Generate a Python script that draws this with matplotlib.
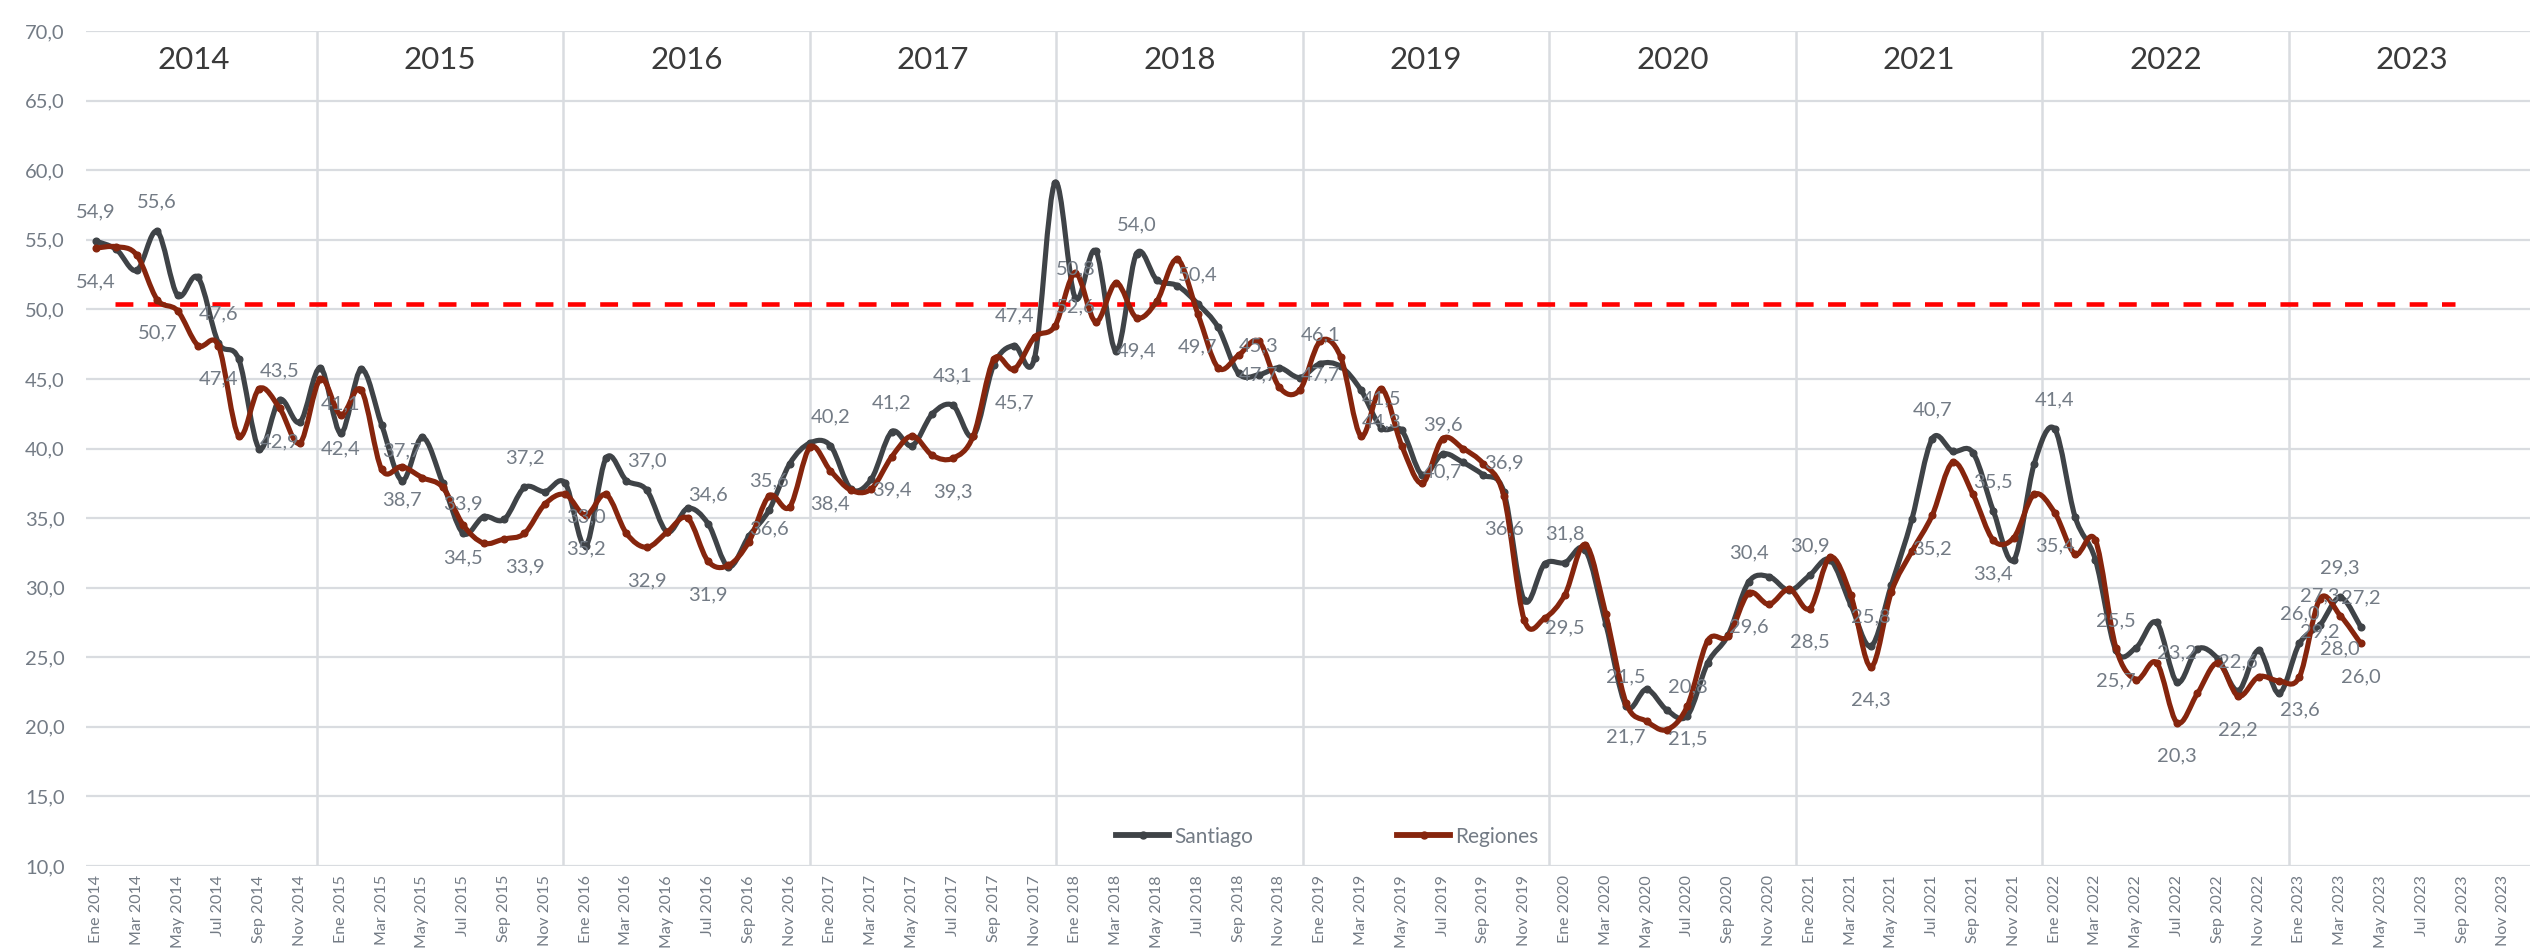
import matplotlib
matplotlib.use("Agg")
import matplotlib.pyplot as plt
from matplotlib.path import Path
from matplotlib.patches import PathPatch
from matplotlib.lines import Line2D
from matplotlib.ticker import FuncFormatter, FixedLocator

# ---------- datos ----------
years = [2014, 2015, 2016, 2017, 2018, 2019, 2020, 2021, 2022, 2023]
month_abbr = ["Ene", "Mar", "May", "Jul", "Sep", "Nov"]
tick_labels = [f"{m} {y}" for y in years for m in month_abbr]

santiago = [
    54.9, 54.3, 52.8, 55.6, 51.0, 52.3, 47.6, 46.4, 40.0, 43.5, 41.9, 45.8,
    41.1, 45.7, 41.7, 37.7, 40.8, 37.5, 33.9, 35.1, 34.9, 37.2, 36.9, 37.5,
    33.0, 39.3, 37.7, 37.0, 34.0, 35.7, 34.6, 31.5, 33.7, 35.6, 38.9, 40.4,
    40.2, 37.1, 37.8, 41.2, 40.2, 42.5, 43.1, 40.9, 46.0, 47.4, 46.5, 59.1,
    50.8, 54.2, 47.0, 54.0, 52.1, 51.7, 50.4, 48.7, 45.4, 45.3, 45.8, 45.1,
    46.1, 45.9, 44.2, 41.5, 41.3, 38.1, 39.6, 39.0, 38.1, 36.9, 29.1, 31.7,
    31.8, 32.7, 27.4, 21.5, 22.7, 21.2, 20.8, 24.6, 26.6, 30.4, 30.8, 29.8,
    30.9, 32.0, 28.8, 25.8, 30.2, 34.9, 40.7, 39.8, 39.7, 35.5, 32.0, 38.9,
    41.4, 35.1, 32.0, 25.5, 25.7, 27.5, 23.2, 25.6, 24.9, 22.6, 25.5, 22.4,
    26.0, 27.3, 29.3, 27.2,
]
regiones = [
    54.4, 54.5, 53.9, 50.7, 49.9, 47.4, 47.4, 40.9, 44.3, 42.9, 40.4, 45.0,
    42.4, 44.2, 38.5, 38.7, 37.9, 37.2, 34.5, 33.2, 33.5, 33.9, 36.0, 36.7,
    35.2, 36.7, 33.9, 32.9, 34.0, 35.0, 31.9, 31.6, 33.3, 36.6, 35.8, 40.1,
    38.4, 37.0, 37.1, 39.4, 40.9, 39.5, 39.3, 40.9, 46.4, 45.7, 48.0, 48.8,
    52.6, 49.1, 51.9, 49.4, 50.6, 53.6, 49.7, 45.8, 46.7, 47.7, 44.4, 44.2,
    47.7, 46.6, 40.9, 44.3, 40.2, 37.5, 40.7, 40.0, 38.9, 36.6, 27.7, 27.8,
    29.5, 33.1, 28.1, 21.7, 20.4, 19.8, 21.5, 26.2, 26.5, 29.6, 28.8, 29.9,
    28.5, 32.2, 29.5, 24.3, 29.7, 32.6, 35.2, 39.0, 36.7, 33.4, 33.6, 36.7,
    35.4, 32.4, 33.4, 25.7, 23.4, 24.6, 20.3, 22.4, 24.6, 22.2, 23.6, 23.3,
    23.6, 29.2, 28.0, 26.0,
]
umbral = 50.4
label_idx = list(range(0, len(santiago), 3)) + [109, 110]

# ---------- estilo ----------
plt.rcParams["font.family"] = ["Lato", "DejaVu Sans"]
C_SANT = "#3F4347"
C_REG = "#86250D"
C_GRID = "#D9DCE0"
C_TXT = "#737B85"

fig = plt.figure(figsize=(25.34, 9.52), dpi=100)
ax = fig.add_axes([85.8 / 2534, 86 / 952, (2530 - 85.8) / 2534, 835 / 952])
ax.set_xlim(-0.5, 119.3)
ax.set_ylim(10, 70)


def smooth_path(xs, ys):
    # curva suavizada tipo Excel (Bezier Catmull-Rom)
    pts = list(zip(xs, ys))
    verts = [pts[0]]
    codes = [Path.MOVETO]
    n = len(pts)
    for i in range(n - 1):
        p0 = pts[max(i - 1, 0)]
        p1 = pts[i]
        p2 = pts[i + 1]
        p3 = pts[min(i + 2, n - 1)]
        c1 = (p1[0] + (p2[0] - p0[0]) / 6, p1[1] + (p2[1] - p0[1]) / 6)
        c2 = (p2[0] - (p3[0] - p1[0]) / 6, p2[1] - (p3[1] - p1[1]) / 6)
        verts += [c1, c2, p2]
        codes += [Path.CURVE4] * 3
    return Path(verts, codes)


# grilla
for v in range(10, 71, 5):
    ax.axhline(v, color=C_GRID, lw=1.6, zorder=0)
year_sep = [10.83 + 12.08 * k for k in range(9)]
for xs in year_sep:
    ax.axvline(xs, color=C_GRID, lw=1.8, zorder=0)
edges = [year_sep[0] - 12.08] + year_sep + [year_sep[-1] + 12.08]
for k, y in enumerate(years):
    ax.text((edges[k] + edges[k + 1]) / 2, 67.9, str(y), ha="center", va="center",
            fontsize=22.5, color="#3A3A3A")

# línea umbral
ax.plot([0.95, 115.6], [umbral, umbral], color="#FF0000", lw=3.3,
        linestyle=(0, (3.9, 3.15)), zorder=2)

x = list(range(len(santiago)))
for ys, col, z in [(santiago, C_SANT, 3), (regiones, C_REG, 4)]:
    ax.add_patch(PathPatch(smooth_path(x, ys), fill=False, edgecolor=col, lw=3.7,
                           capstyle="round", joinstyle="round", zorder=z))
    ax.plot(x, ys, "o", color=col, ms=4.8, zorder=z)

# etiquetas de datos
fmt = lambda v: f"{v:.1f}".replace(".", ",")
for i in label_idx:
    ax.annotate(fmt(santiago[i]), (i, santiago[i]), xytext=(0, 21), textcoords="offset points",
                ha="center", va="center", fontsize=14.5, color=C_TXT, zorder=6)
    ax.annotate(fmt(regiones[i]), (i, regiones[i]), xytext=(0, -24), textcoords="offset points",
                ha="center", va="center", fontsize=14.5, color=C_TXT, zorder=6)

# ejes
ax.yaxis.set_major_locator(FixedLocator(range(10, 71, 5)))
ax.yaxis.set_major_formatter(FuncFormatter(lambda v, p: fmt(v)))
ax.set_xticks(range(0, 120, 2))
ax.set_xticklabels(tick_labels, rotation=90, fontsize=11.5, color=C_TXT)
ax.tick_params(axis="x", length=0, pad=6.5)
ax.tick_params(axis="y", length=0, pad=15, labelsize=14.5, labelcolor=C_TXT)
for s in ax.spines.values():
    s.set_visible(False)

handles = [
    Line2D([0, 0.5, 1], [0, 0, 0], color=C_SANT, lw=4.2, marker="o", ms=5, markevery=[1], label="Santiago"),
    Line2D([0, 0.5, 1], [0, 0, 0], color=C_REG, lw=4.2, marker="o", ms=5, markevery=[1], label="Regiones"),
]
ax.legend(handles=handles, loc="center", bbox_to_anchor=(0.508, 0.035), ncol=2,
          frameon=False, fontsize=15, handlelength=2.55, handletextpad=0.25,
          columnspacing=6.9, labelcolor=C_TXT)

fig.savefig("out.png", dpi=100)
